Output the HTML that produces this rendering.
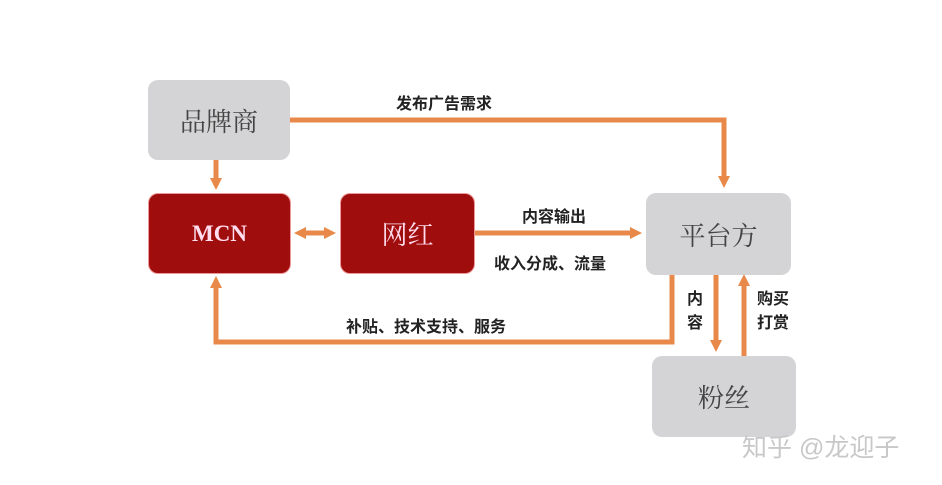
<!DOCTYPE html>
<html><head><meta charset="utf-8"><style>
body{margin:0;width:942px;height:485px;background:#fff;position:relative;overflow:hidden;font-family:"Liberation Serif","Noto Serif CJK SC",serif}
.b{position:absolute;border-radius:10px;display:flex;align-items:center;justify-content:center;font-size:26px}
.g{background:#d4d4d6;color:#444}
.r{background:#a00d0d;color:#fde;border:1px solid #e99}
.t{position:absolute;font-family:"Liberation Sans","Noto Sans CJK SC",sans-serif;font-weight:bold;font-size:16px;color:#222;white-space:nowrap}
</style></head><body>
<svg width="942" height="485" style="position:absolute;left:0;top:0">
<defs><marker id="a" markerWidth="14" markerHeight="14" refX="4" refY="7" orient="auto-start-reverse" markerUnits="userSpaceOnUse"><path d="M0,1L12,7L0,13z" fill="#e8894a"/></marker></defs>
<g stroke="#e8894a" stroke-width="5" fill="none">
<polyline points="290,120 724,120 724,180" marker-end="url(#a)"/>
<line x1="216" y1="160" x2="216" y2="182" marker-end="url(#a)"/>
<line x1="302" y1="233" x2="328" y2="233" marker-start="url(#a)" marker-end="url(#a)"/>
<line x1="474" y1="233" x2="634" y2="233" marker-end="url(#a)"/>
<polyline points="672,272 672,342 216,342 216,284" marker-end="url(#a)"/>
<line x1="716" y1="272" x2="716" y2="344" marker-end="url(#a)"/>
<line x1="744" y1="356" x2="744" y2="282" marker-end="url(#a)"/>
</g></svg>
<div class="b g" style="left:148px;top:80px;width:142px;height:80px">品牌商</div>
<div class="b r" style="left:148px;top:193px;width:141px;height:79px;font-weight:bold;font-size:23px">MCN</div>
<div class="b r" style="left:340px;top:193px;width:133px;height:79px">网红</div>
<div class="b g" style="left:646px;top:193px;width:145px;height:82px">平台方</div>
<div class="b g" style="left:652px;top:356px;width:144px;height:81px">粉丝</div>
<div class="t" style="left:396px;top:90px">发布广告需求</div>
<div class="t" style="left:522px;top:203px">内容输出</div>
<div class="t" style="left:494px;top:250px">收入分成、流量</div>
<div class="t" style="left:346px;top:313px">补贴、技术支持、服务</div>
<div class="t" style="left:687px;top:288px;line-height:24px">内<br>容</div>
<div class="t" style="left:757px;top:288px;line-height:24px">购买<br>打赏</div>
<div class="t" style="left:742px;top:428px;font-size:25px;font-weight:normal;color:#c8c8c8">知乎 @龙迎子</div>
</body></html>
